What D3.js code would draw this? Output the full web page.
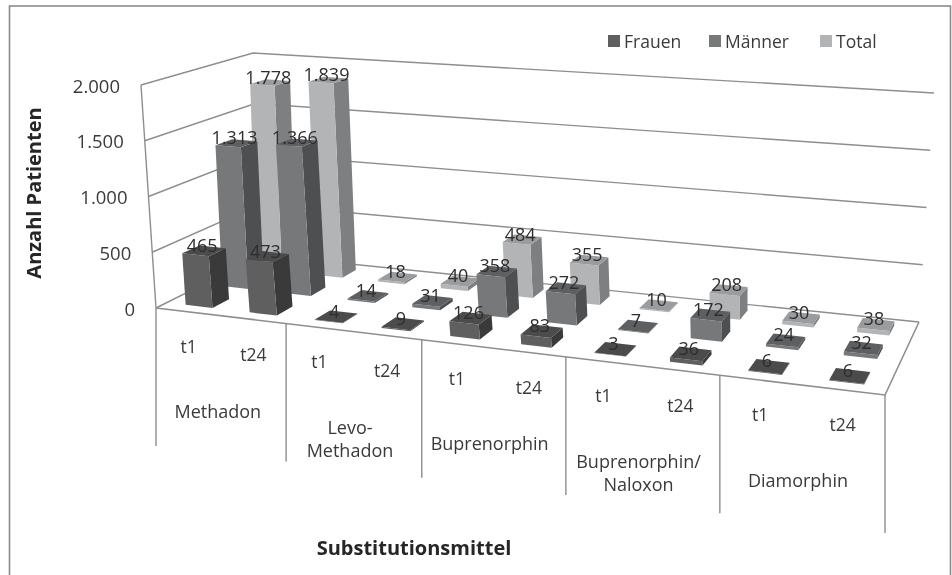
<!DOCTYPE html>
<html>
<head>
<meta charset="utf-8">
<script src="https://cdn.jsdelivr.net/npm/d3@7"></script>
<style>
body { margin: 0; background: #fff; }
svg { filter: blur(0.45px); }
text { font-family: "Open Sans", sans-serif; fill: #3a3a3a; }
</style>
</head>
<body>
<div id="chart"></div>
<script>
var w = 952;
var h = 575;

var drugs = [["Methadon"], ["Levo-", "Methadon"], ["Buprenorphin"], ["Buprenorphin/", "Naloxon"], ["Diamorphin"]];
var times = ["t1", "t24"];
var seriesNames = ["Frauen", "Männer", "Total"];
var frauen = [465, 473, 4, 9, 126, 83, 3, 36, 6, 6];
var maenner = [1313, 1366, 14, 31, 358, 272, 7, 172, 24, 32];
var total = [1778, 1839, 18, 40, 484, 355, 10, 208, 30, 38];
var yTicks = [0, 500, 1000, 1500, 2000];

var seriesValues = [frauen, maenner, total];
// front, top, side
var shades = [
    ["#5f5f60", "#4b4b4c", "#3a3a3b"],
    ["#77787a", "#5e5f61", "#4e4f51"],
    ["#b3b4b6", "#9b9c9e", "#7e7f81"]
];
var legendColors = ["#5f5f60", "#77787a", "#b3b4b6"];

// plot box corners
var floorQuad = [[156, 308], [885, 395], [919, 322], [262, 255]];
var topQuad = [[141, 85], [900, 142], [934, 93], [253, 53]];
var barTopQuad = [[141, 85], [900, 142], [934, 93], [258, 53]];

function homography(q) {
    var dx1 = q[1][0] - q[2][0], dx2 = q[3][0] - q[2][0], sx = q[0][0] - q[1][0] + q[2][0] - q[3][0];
    var dy1 = q[1][1] - q[2][1], dy2 = q[3][1] - q[2][1], sy = q[0][1] - q[1][1] + q[2][1] - q[3][1];
    var d = dx1 * dy2 - dx2 * dy1;
    var g = (sx * dy2 - dx2 * sy) / d;
    var k = (dx1 * sy - sx * dy1) / d;
    return function(u, v) {
        var n = g * u + k * v + 1;
        return [
            (q[1][0] - q[0][0] + g * q[1][0]) * u / n + (q[3][0] - q[0][0] + k * q[3][0]) * v / n + q[0][0] / n,
            (q[1][1] - q[0][1] + g * q[1][1]) * u / n + (q[3][1] - q[0][1] + k * q[3][1]) * v / n + q[0][1] / n
        ];
    };
}

var floorH = homography(floorQuad);
var topH = homography(topQuad);
var barTopH = homography(barTopQuad);

// the picture is a bit less foreshortened along the front than the corners alone give
var warp = d3.scalePow().exponent(0.98).domain([0, 1]).range([0, 1]);

function project(u, v, z, upper) {
    var a = floorH(warp(u), v);
    var b = (upper || topH)(warp(u), v);
    return [a[0] + (b[0] - a[0]) * z, a[1] + (b[1] - a[1]) * z];
}

var xBand = d3.scaleBand().domain(d3.range(10)).range([0, 1]).paddingInner(0.58).paddingOuter(0.29);
var depthBand = d3.scaleBand().domain(d3.range(3)).range([0, 1]).paddingInner(0.55).paddingOuter(0.275);
var z = d3.scaleLinear().domain([0, 2000]).range([0, 1]);
var slot = d3.scaleBand().domain(d3.range(10)).range([0, 1]);
var group = d3.scaleBand().domain(d3.range(5)).range([0, 1]);

var fmt = d3.formatLocale({ decimal: ",", thousands: ".", grouping: [3], currency: ["", "€"] }).format(",d");
var line = d3.line();

var svg = d3.select("#chart")
    .append("svg")
    .attr("width", w)
    .attr("height", h);

svg.append("rect")
    .attr("x", 9.5).attr("y", 6)
    .attr("width", 941).attr("height", 600)
    .attr("fill", "none")
    .attr("stroke", "#8c8c8c")
    .attr("stroke-width", 1.6);

var gridColor = "#8e8e90";

// wall lines
svg.selectAll(".grid")
    .data(yTicks)
    .enter()
    .append("path")
    .attr("class", "grid")
    .attr("fill", "none")
    .attr("stroke", gridColor)
    .attr("stroke-width", 1.4)
    .attr("d", function(d) {
        return line([project(0, 0, z(d)), project(0, 1, z(d)), project(1, 1, z(d))]);
    });

svg.append("path")
    .attr("fill", "none")
    .attr("stroke", gridColor)
    .attr("stroke-width", 1.4)
    .attr("d", line([project(0, 0, 0), project(0, 0, 1)]));

// floor
svg.append("path")
    .attr("fill", "none")
    .attr("stroke", gridColor)
    .attr("stroke-width", 1.6)
    .attr("d", line([project(0, 0, 0), project(1, 0, 0), project(1, 1, 0)]));

// separators below the floor
svg.selectAll(".sep")
    .data(d3.range(6))
    .enter()
    .append("line")
    .attr("class", "sep")
    .attr("stroke", gridColor)
    .attr("stroke-width", 1.4)
    .attr("x1", function(d) { return project(d / 5, 0, 0)[0]; })
    .attr("x2", function(d) { return project(d / 5, 0, 0)[0]; })
    .attr("y1", function(d) { return project(d / 5, 0, 0)[1]; })
    .attr("y2", function(d) { return project(d / 5, 0, 0)[1] + 138; });

// bars, back row first, right to left
var bars = [];
[2, 1, 0].forEach(function(s) {
    d3.range(9, -1, -1).forEach(function(i) {
        bars.push({ s: s, i: i, value: seriesValues[s][i] });
    });
});

var bar = svg.selectAll(".bar")
    .data(bars)
    .enter()
    .append("g")
    .attr("class", "bar");

function face(pts) {
    return line(pts.map(function(p) { return project(p[0], p[1], p[2], barTopH); })) + "Z";
}

function corners(d) {
    var u0 = xBand(d.i), u1 = u0 + xBand.bandwidth();
    var v0 = depthBand(d.s), v1 = v0 + depthBand.bandwidth();
    return { u0: u0, u1: u1, v0: v0, v1: v1, t: z(d.value) };
}

bar.append("path")
    .attr("fill", function(d) { return shades[d.s][2]; })
    .attr("d", function(d) {
        var c = corners(d);
        return face([[c.u1, c.v0, 0], [c.u1, c.v1, 0], [c.u1, c.v1, c.t], [c.u1, c.v0, c.t]]);
    });

bar.append("path")
    .attr("fill", function(d) { return shades[d.s][0]; })
    .attr("d", function(d) {
        var c = corners(d);
        return face([[c.u0, c.v0, 0], [c.u1, c.v0, 0], [c.u1, c.v0, c.t], [c.u0, c.v0, c.t]]);
    });

bar.append("path")
    .attr("fill", function(d) { return shades[d.s][1]; })
    .attr("d", function(d) {
        var c = corners(d);
        return face([[c.u0, c.v0, c.t], [c.u1, c.v0, c.t], [c.u1, c.v1, c.t], [c.u0, c.v1, c.t]]);
    });

// value labels
svg.selectAll(".val")
    .data(bars)
    .enter()
    .append("text")
    .attr("class", "val")
    .attr("text-anchor", "middle")
    .style("font-size", "18px")
    .style("fill", "#2e2e2e")
    .attr("x", function(d) {
        var c = corners(d);
        return project((c.u0 + c.u1) / 2, (c.v0 + c.v1) / 2, c.t, barTopH)[0] - 2;
    })
    .attr("y", function(d) {
        var c = corners(d);
        return project((c.u0 + c.u1) / 2, (c.v0 + c.v1) / 2, c.t, barTopH)[1] + 1;
    })
    .text(function(d) { return fmt(d.value); });

// y tick labels
svg.selectAll(".ytick")
    .data(yTicks)
    .enter()
    .append("text")
    .attr("class", "ytick")
    .attr("text-anchor", "end")
    .attr("dominant-baseline", "central")
    .style("font-size", "18.5px")
    .attr("x", function(d) { return project(0, 0, z(d))[0] - 21; })
    .attr("y", function(d) { return project(0, 0, z(d))[1]; })
    .text(function(d) { return fmt(d); });

// t1 / t24
svg.selectAll(".time")
    .data(d3.range(10))
    .enter()
    .append("text")
    .attr("class", "time")
    .attr("text-anchor", "middle")
    .attr("dominant-baseline", "central")
    .style("font-size", "17.5px")
    .attr("x", function(d) { return project(slot(d) + slot.bandwidth() / 2, 0, 0)[0]; })
    .attr("y", function(d) { return project(slot(d) + slot.bandwidth() / 2, 0, 0)[1] + 34; })
    .text(function(d) { return times[d % 2]; });

// substance labels
var drugLabel = svg.selectAll(".drug")
    .data(drugs)
    .enter()
    .append("text")
    .attr("class", "drug")
    .attr("text-anchor", "middle")
    .style("font-size", "18px");

drugLabel.selectAll("tspan")
    .data(function(d, i) {
        return d.map(function(t, j) { return { t: t, j: j, i: i }; });
    })
    .enter()
    .append("tspan")
    .attr("x", function(d) { return project(group(d.i) + group.bandwidth() / 2, 0, 0)[0] - 3; })
    .attr("y", function(d) {
        return project(group(d.i) + group.bandwidth() / 2, 0, 0)[1] + 102 + d.j * 23.5;
    })
    .text(function(d) { return d.t; });

// axis titles
svg.append("text")
    .attr("transform", "translate(41,193) rotate(-90)")
    .attr("text-anchor", "middle")
    .style("font-size", "20px")
    .style("font-weight", "bold")
    .style("fill", "#262626")
    .text("Anzahl Patienten");

svg.append("text")
    .attr("x", 414)
    .attr("y", 555)
    .attr("text-anchor", "middle")
    .style("font-size", "20px")
    .style("font-weight", "bold")
    .style("fill", "#262626")
    .text("Substitutionsmittel");

// legend
var legendX = [608, 709, 820];
var legend = svg.selectAll(".legend")
    .data(seriesNames)
    .enter()
    .append("g")
    .attr("class", "legend")
    .attr("transform", function(d, i) { return "translate(" + legendX[i] + ",35)"; });

legend.append("rect")
    .attr("width", 12)
    .attr("height", 12)
    .attr("fill", function(d, i) { return legendColors[i]; });

legend.append("text")
    .attr("x", 16)
    .attr("y", 6)
    .attr("dominant-baseline", "central")
    .style("font-size", "17.5px")
    .text(function(d) { return d; });
</script>
</body>
</html>
